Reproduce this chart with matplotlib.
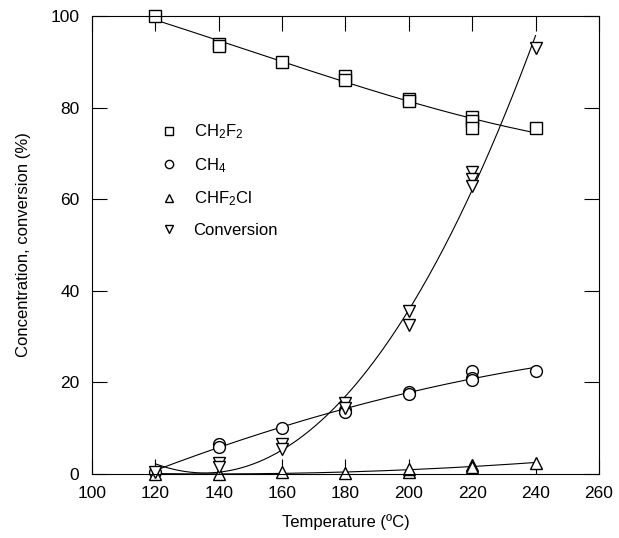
import numpy as np
import matplotlib
matplotlib.use("Agg")
import matplotlib.pyplot as plt

plt.rcParams['font.family'] = ['Liberation Sans', 'DejaVu Sans']
plt.rcParams['mathtext.fontset'] = 'custom'
plt.rcParams['mathtext.rm'] = 'Liberation Sans'
plt.rcParams['mathtext.it'] = 'Liberation Sans'

ch2f2_t = [120, 140, 140, 160, 180, 180, 200, 200, 220, 220, 220, 240]
ch2f2 = [100, 94, 93.5, 90, 87, 86, 82, 81.5, 78, 77, 75.5, 75.5]

ch4_t = [120, 140, 140, 160, 180, 180, 200, 200, 220, 220, 220, 240]
ch4 = [0.5, 6.5, 6, 10, 14, 13.5, 18, 17.5, 22.5, 21, 20.5, 22.5]

chf2cl_t = [120, 140, 160, 180, 200, 200, 220, 220, 240]
chf2cl = [0, 0, 0.5, 0.3, 0.5, 1, 2, 1.5, 2.5]

conv_t = [120, 140, 140, 160, 160, 180, 180, 200, 200, 220, 220, 220, 240]
conv = [0.5, 2.5, 1.5, 6.5, 5.5, 15.5, 14.5, 35.5, 32.5, 66, 64.5, 63, 93]

fig = plt.figure(figsize=(6.19, 5.38), dpi=100)
ax = fig.add_axes([0.1486, 0.119, 0.819, 0.851])

tt = np.linspace(120, 240, 200)

def fit(x, y, deg):
    return np.polyval(np.polyfit(x, y, deg), tt)

ax.plot(tt, fit(ch2f2_t, ch2f2, 3), color='black', lw=0.8)
ax.plot(tt, fit(ch4_t, ch4, 2), color='black', lw=0.8)
ax.plot(tt, np.clip(fit(chf2cl_t, chf2cl, 2), 0, None), color='black', lw=0.8)
ax.plot(tt, fit(conv_t, conv, 3), color='black', lw=0.8)

mk = dict(ls='none', mfc='white', mec='black', mew=1.0, ms=8.5, clip_on=False)
ax.plot(ch2f2_t, ch2f2, marker='s', label='CH$_2$F$_2$', **mk)
ax.plot(ch4_t, ch4, marker='o', label='CH$_4$', **mk)
ax.plot(chf2cl_t, chf2cl, marker='^', label='CHF$_2$Cl', **mk)
ax.plot(conv_t, conv, marker='v', label='Conversion', **mk)

ax.set_xlim(100, 260)
ax.set_ylim(0, 100)
ax.set_xticks(np.arange(100, 261, 20))
ax.set_yticks(np.arange(0, 101, 20))
ax.tick_params(direction='in', length=11, width=0.8, top=True, right=True,
               labelsize=12.5, colors='black', pad=9)
for s in ax.spines.values():
    s.set_linewidth(0.8)

ax.set_xlabel('Temperature (ºC)', fontsize=12, labelpad=9)
ax.set_ylabel('Concentration, conversion (%)', fontsize=12, labelpad=14)

ax.legend(loc='upper left', bbox_to_anchor=(0.105, 0.80), frameon=False,
          fontsize=12, handlelength=1.0, handletextpad=1.0,
          labelspacing=0.88, markerscale=0.7)

fig.savefig('out.png', dpi=100)
